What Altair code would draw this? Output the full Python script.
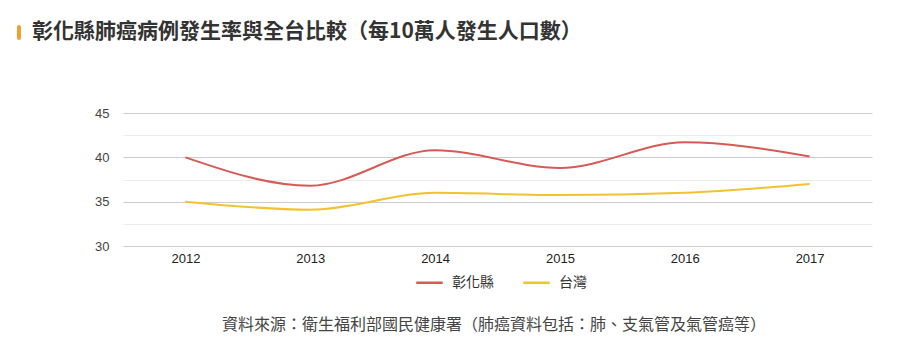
import altair as alt
import pandas as pd

years = ["2012", "2013", "2014", "2015", "2016", "2017"]
changhua = [40.0, 36.8, 40.8, 38.8, 41.7, 40.1]
taiwan = [35.0, 34.1, 36.0, 35.75, 36.0, 37.0]
series_names = ["彰化縣", "台灣"]
series_colors = ["#d65a55", "#f2c230"]
title_text = "彰化縣肺癌病例發生率與全台比較（每10萬人發生人口數）"
source_text = "資料來源：衛生福利部國民健康署（肺癌資料包括：肺、支氣管及氣管癌等）"

rows = []
for y, a, b in zip(years, changhua, taiwan):
    rows.append({"year": y, "series": series_names[0], "value": a})
    rows.append({"year": y, "series": series_names[1], "value": b})
df = pd.DataFrame(rows)

font = "Liberation Sans, Noto Sans CJK TC, sans-serif"

lines = alt.Chart(df).mark_line(interpolate="monotone", strokeWidth=2).encode(
    x=alt.X("year:N", sort=years, title=None,
            scale=alt.Scale(padding=0.5),
            axis=alt.Axis(labelAngle=0, ticks=False, domain=False, grid=False,
                          labelFontSize=13, labelColor="#222", labelPadding=6, labelFont=font)),
    y=alt.Y("value:Q", title=None,
            scale=alt.Scale(domain=[30, 45], nice=False, zero=False),
            axis=alt.Axis(values=[30, 32.5, 35, 37.5, 40, 42.5, 45],
                          labelExpr="datum.value % 5 === 0 ? datum.label : ''",
                          ticks=False, domain=False, labelFontSize=13, labelColor="#444",
                          labelPadding=14, labelFont=font,
                          gridColor={"condition": {"test": "datum.value % 5 === 0", "value": "#cccccc"},
                                     "value": "#ebebeb"})),
    color=alt.Color("series:N", sort=series_names,
                    scale=alt.Scale(domain=series_names, range=series_colors),
                    legend=alt.Legend(title=None, orient="none", direction="horizontal",
                                      legendX=292, legendY=155,
                                      symbolType="stroke", symbolStrokeWidth=2.5, symbolSize=700,
                                      labelFontSize=14, labelColor="#333", labelFont=font,
                                      columnPadding=24, symbolOffset=0, labelOffset=8)),
)

bar = alt.Chart(pd.DataFrame({"a": [0]})).mark_rule(strokeWidth=4, color="#f0a030", strokeCap="round").encode(
    x=alt.value(-104), y=alt.value(-86), y2=alt.value(-75))

title = alt.Chart(pd.DataFrame({"t": [title_text]})).mark_text(
    align="left", baseline="middle", fontSize=21, fontWeight="bold", color="#333",
    font="Noto Sans CJK TC").encode(
    text="t:N", x=alt.value(-91), y=alt.value(-81))

source = alt.Chart(pd.DataFrame({"t": [source_text]})).mark_text(
    align="center", baseline="middle", fontSize=16, color="#444",
    font="Noto Sans CJK TC").encode(
    text="t:N", x=alt.value(371), y=alt.value(212))

chart = alt.layer(lines, bar, title, source).properties(
    width=749, height=133,
    background="white",
    autosize=alt.AutoSizeParams(type="none"),
    padding={"left": 123, "top": 113, "right": 28, "bottom": 107},
).configure_view(strokeWidth=0)

chart.save("out.html", embed_options={"renderer": "svg", "actions": False})
